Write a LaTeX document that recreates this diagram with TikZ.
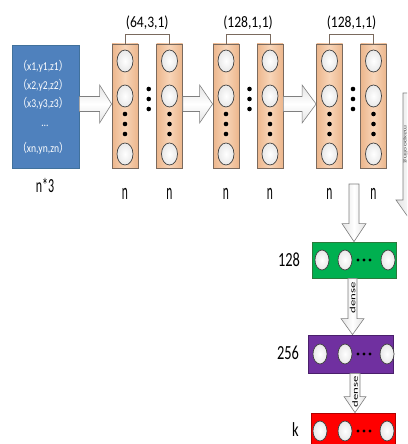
\documentclass[tikz,border=0pt]{standalone}
\usepackage{fontspec}
\usepackage{graphicx}
\setmainfont{Carlito}
\newfontfamily\cjk{Noto Sans CJK SC}
\usetikzlibrary{shapes.geometric,calc}

\definecolor{boxblue}{HTML}{4F81BD}
\definecolor{boxblueline}{HTML}{41719C}
\definecolor{peachdark}{HTML}{ECB68C}
\definecolor{peachlight}{HTML}{F8D5B8}
\definecolor{peachline}{HTML}{7A6A5E}
\definecolor{neuronline}{HTML}{3F3F3F}
\definecolor{arrowline}{HTML}{7F7F7F}
\definecolor{densegreen}{HTML}{00B050}
\definecolor{densegreenline}{HTML}{2B7A3B}
\definecolor{densepurple}{HTML}{7030A0}
\definecolor{densepurpleline}{HTML}{4A1F6B}
\definecolor{densered}{HTML}{FF0000}
\definecolor{denseredline}{HTML}{B00000}

% horizontal block arrow: from #1 to #2 at height #3, head length #4
\newcommand{\rightblock}[4]{%
  \draw[blockarrowh] let \p1=(#1), \p2=(#2) in
    (\x1,#3+7.5) -- (\x2-#4,#3+7.5) -- (\x2-#4,#3+19) -- (\x2,#3)
    -- (\x2-#4,#3-19) -- (\x2-#4,#3-7.5) -- (\x1,#3-7.5) -- cycle;}
% vertical block arrow: from #1 down to #2 at x=#3,
% shaft half width #4, head half width #5, head length #6
\newcommand{\downblock}[6]{%
  \draw[blockarrowv] let \p1=(#1), \p2=(#2) in
    (#3-#4,\y1) -- (#3-#4,\y2+#6) -- (#3-#5,\y2+#6) -- (#3,\y2)
    -- (#3+#5,\y2+#6) -- (#3+#4,\y2+#6) -- (#3+#4,\y1) -- cycle;}

\tikzset{
  inputbox/.style={draw=boxblueline, line width=0.8pt, fill=boxblue,
    minimum width=67pt, minimum height=123pt, inner sep=0pt},
  layercol/.style={draw=peachline, line width=0.8pt, left color=peachdark,
    right color=peachdark, middle color=peachlight,
    minimum width=26pt, minimum height=124pt, inner sep=0pt},
  neuron/.style={ellipse, draw=neuronline, line width=0.7pt,
    inner color=white, outer color=gray!18,
    minimum width=16pt, minimum height=22pt, inner sep=0pt},
  smallneuron/.style={neuron, minimum width=14pt, minimum height=20pt},
  denselayer/.style={line width=0.8pt, minimum width=84pt,
    minimum height=37pt, inner sep=0pt},
  blockarrowh/.style={draw=arrowline, line width=0.6pt,
    top color=gray!22, bottom color=gray!22, middle color=white},
  blockarrowv/.style={draw=arrowline, line width=0.6pt,
    left color=gray!22, right color=gray!22, middle color=white},
  bracket/.style={draw=peachline, line width=0.7pt},
  toplabel/.style={font=\fontsize{16}{16}\selectfont, inner sep=0pt},
  sidelabel/.style={font=\fontsize{20}{20}\selectfont, inner sep=0pt},
  nlabel/.style={font=\fontsize{23}{23}\selectfont, inner sep=0pt},
  pointtext/.style={text=white, font=\fontsize{12}{12}\selectfont, inner sep=0pt},
  densetext/.style={rotate=90, font=\fontsize{8}{8}\selectfont, inner sep=0pt},
  dotmark/.style={fill=black},
}

\begin{document}
\begin{tikzpicture}[x=1pt,y=1pt]
\useasboundingbox (0,0) rectangle (407,444);
\clip (0,0) rectangle (407,444);

% input point cloud
\node[inputbox] (input) at (45.5,337.5) {};
\node[pointtext] (p1) at (43,378) {\scalebox{0.8}[1]{{\cjk （}x1,y1,z1{\cjk ）}}};
\node[pointtext] (p2) at (43,359) {\scalebox{0.8}[1]{{\cjk （}x2,y2,z2{\cjk ）}}};
\node[pointtext] (p3) at (43,341) {\scalebox{0.8}[1]{{\cjk （}x3,y3,z3{\cjk ）}}};
\node[pointtext] (pdots) at (45,318) {\scalebox{0.8}[1]{…}};
\node[pointtext] (pn) at (43,296) {\scalebox{0.8}[1]{{\cjk （}xn,yn,zn{\cjk ）}}};
\node[sidelabel] (inlab) at (45,259) {\scalebox{0.6}[1]{n*3}};

% convolution columns
\foreach \name/\xpos in {c11/125, c12/169.5, c21/226, c22/270, c31/329.5, c32/373.5}{
  \node[layercol] (\name) at (\xpos,338) {};
  \node[neuron] (\name-a) at ($(\name)+(0,45)$) {};
  \node[neuron] (\name-b) at ($(\name)+(0,10)$) {};
  \node[neuron] (\name-c) at ($(\name)+(0,-48)$) {};
  \foreach \dy in {-8,-18,-28}{
    \fill[dotmark] ($(\name)+(0,\dy)$) circle (2.3pt);
  }
  \node[nlabel] (\name-n) at (\xpos,250.5) {\scalebox{0.5}[1]{n}};
}

% dots between the two columns of each group, brackets and labels
\foreach \a/\b/\txt in {c11/c12/{(64,3,1)}, c21/c22/{(128,1,1)}, c31/c32/{(128,1,1)}}{
  \foreach \dy in {17,7,-3}{
    \fill[dotmark] ($($(\a)!0.5!(\b)$)+(1.5,\dy)$) circle (2.3pt);
  }
  \draw[bracket] (\a.north) -- ++(0,9) -| (\b.north);
  \node[toplabel] (\a-lab) at ($($(\a.north)!0.5!(\b.north)$)+(0,21)$) {\scalebox{0.85}[1]{\txt}};
}

% arrows between stages
\rightblock{input.east}{c11.west}{340}{12}
\rightblock{c12.east}{c21.west}{340}{13}
\rightblock{c22.east}{c31.west}{340}{14}

% pooling arrow at the right edge
\coordinate (poolin) at (413,351);
\coordinate (pooltip) at (413,220);
\downblock{poolin}{pooltip}{413}{10}{17}{24}
\node[rotate=-90, font=\fontsize{5}{5}\selectfont, text=gray!70!black, inner sep=0pt] (pooltext) at (405.3,300)
  {\scalebox{1.6}[1]{maxpooling}};

% fully connected layers
\coordinate (poolout) at (354,260);
\node[denselayer, draw=densegreenline, fill=densegreen, minimum height=36pt] (fc1) at (354,184) {};
\node[denselayer, draw=densepurpleline, fill=densepurple, minimum width=85pt, minimum height=38pt] (fc2) at (350.5,90) {};
\node[denselayer, draw=denseredline, fill=densered] (fc3) at (353,12.5) {};

\foreach \fc/\xa/\xb/\xc/\yy in {fc1/322/345/388/184, fc2/320/345/387/90, fc3/320/345/387/13}{
  \node[smallneuron] (\fc-a) at (\xa,\yy) {};
  \node[smallneuron] (\fc-b) at (\xb,\yy) {};
  \node[smallneuron] (\fc-c) at (\xc,\yy) {};
  \foreach \dx in {13,19,25}{
    \fill[dotmark] ($(\fc-b)+(\dx,0)$) circle (1.6pt);
  }
}

\node[sidelabel] (fc1lab) at (289,184.5) {\scalebox{0.72}[1]{128}};
\node[sidelabel] (fc2lab) at (288,91.5) {\scalebox{0.72}[1]{256}};
\node[sidelabel] (fc3lab) at (295.5,14.5) {\scalebox{0.72}[1]{k}};

\downblock{poolout}{fc1.north}{354}{5}{12}{18}
\downblock{fc1.south}{fc2.north}{352.5}{4.5}{11.5}{16}
\downblock{fc2.south}{fc3.north}{355}{5}{11}{16}

\node[densetext] (dense1) at (352.5,146) {\scalebox{1.6}[1]{dense}};
\node[densetext] (dense2) at (355,52) {\scalebox{1.6}[1]{dense}};
\end{tikzpicture}
\end{document}
